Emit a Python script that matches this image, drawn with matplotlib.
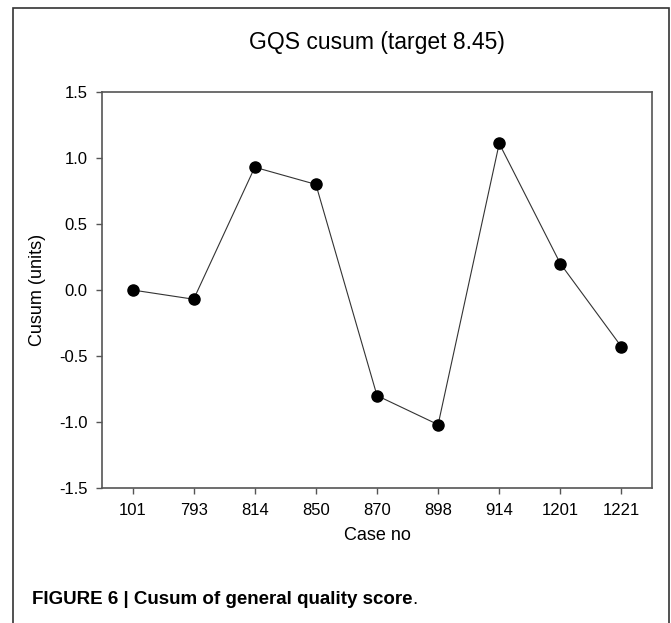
import matplotlib
matplotlib.use("Agg")
import matplotlib.pyplot as plt
from matplotlib import font_manager
from matplotlib.patches import Rectangle

# data
cases = ["101", "793", "814", "850", "870", "898", "914", "1201", "1221"]
cusum = [0.0, -0.07, 0.93, 0.80, -0.80, -1.02, 1.11, 0.20, -0.43]
y_ticks = [-1.5, -1.0, -0.5, 0.0, 0.5, 1.0, 1.5]

available = {f.name for f in font_manager.fontManager.ttflist}
base_font = "Liberation Sans" if "Liberation Sans" in available else "DejaVu Sans"
narrow_font = "Liberation Sans Narrow" if "Liberation Sans Narrow" in available else base_font
plt.rcParams["font.family"] = [base_font, "DejaVu Sans"]

W, H = 671, 623
fig = plt.figure(figsize=(W / 100, H / 100), dpi=100)
ax = fig.add_axes([102 / W, 1 - 488 / H, 550 / W, 396 / H])

x = range(len(cases))
ax.plot(x, cusum, color="#333333", linewidth=0.8, zorder=2)
ax.plot(x, cusum, "o", color="black", markersize=8, zorder=3)

ax.set_xlim(-0.5, len(cases) - 0.5)
ax.set_ylim(-1.5, 1.5)
ax.set_xticks(list(x))
ax.set_xticklabels(cases)
ax.set_yticks(y_ticks)
ax.set_yticklabels([f"{v:.1f}" for v in y_ticks])

for s in ax.spines.values():
    s.set_color("#555555")
    s.set_linewidth(1.2)
ax.tick_params(axis="x", direction="out", length=4, width=1, color="#555555",
               pad=7, labelsize=12)
ax.tick_params(axis="y", direction="out", length=4.5, width=1, color="#555555",
               pad=6, labelsize=12)

ax.set_xlabel("Case no", fontsize=13, labelpad=6)
ax.set_ylabel("Cusum (units)", fontsize=13, labelpad=9)

fig.text(377 / W, 1 - 42 / H, "GQS cusum (target 8.45)", ha="center",
         va="center", fontsize=16.5)

# outer frame of the figure panel
fig.patches.append(Rectangle((13 / W, -0.1), (669 - 13) / W, 1.1 - 8 / H,
                             transform=fig.transFigure, fill=False,
                             edgecolor="#333333", linewidth=1.2))

cap = fig.text(32 / W, 1 - 600 / H, "FIGURE 6 | Cusum of general quality score",
               ha="left", va="center", fontsize=13.5, fontweight="bold",
               family=[narrow_font, "DejaVu Sans"])
fig.canvas.draw()
bb = cap.get_window_extent()
fig.text(bb.x1 / W, 1 - 600 / H, ".", ha="left", va="center", fontsize=13.5,
         family=[narrow_font, "DejaVu Sans"])

fig.savefig("out.png", dpi=100)
